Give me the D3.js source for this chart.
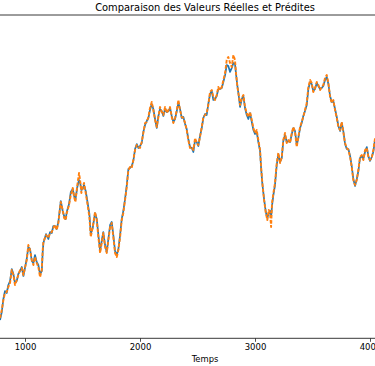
<!DOCTYPE html>
<html>
<head>
<meta charset="utf-8">
<script src="https://cdn.jsdelivr.net/npm/d3@7"></script>
<style>
  body { margin: 0; background: #fff; }
  svg { display: block; font-family: "DejaVu Sans", sans-serif; }
</style>
</head>
<body>
<div id="chart-area"></div>
<script>
// temps (abscisse) et valeurs
var temps = [783, 798, 812, 826, 841, 855, 870, 885, 899, 913, 928, 942, 957, 972, 986,
  1015, 1029, 1044, 1059, 1073, 1087, 1102, 1116, 1131, 1146, 1154, 1160, 1183, 1203, 1218,
  1233, 1246, 1261, 1276, 1290, 1311, 1328, 1340, 1354, 1363, 1383, 1398, 1415, 1427, 1438,
  1455, 1470, 1479, 1490, 1502, 1513, 1528, 1542, 1560, 1572, 1589, 1609, 1624, 1638, 1653,
  1667, 1681, 1696, 1711, 1725, 1740, 1754, 1768, 1783, 1798, 1812, 1827, 1841, 1855, 1870,
  1885, 1899, 1913, 1928, 1942, 1957, 1972, 1986, 2000, 2015, 2029, 2044, 2059, 2073, 2087,
  2102, 2116, 2131, 2146, 2160, 2174, 2189, 2203, 2218, 2233, 2247, 2261, 2276, 2290, 2305,
  2320, 2334, 2348, 2363, 2377, 2392, 2406, 2420, 2435, 2450, 2464, 2479, 2493, 2507, 2522,
  2537, 2551, 2566, 2580, 2594, 2609, 2624, 2638, 2653, 2667, 2681, 2696, 2711, 2725, 2740,
  2754, 2768, 2783, 2798, 2812, 2826, 2835, 2847, 2861, 2870, 2885, 2899, 2913, 2928, 2942,
  2957, 2972, 2986, 3000, 3015, 3029, 3044, 3053, 3064, 3079, 3094, 3107, 3120, 3131, 3140,
  3148, 3160, 3174, 3189, 3203, 3218, 3233, 3246, 3261, 3276, 3290, 3305, 3320, 3333, 3348,
  3363, 3377, 3392, 3406, 3420, 3435, 3450, 3464, 3479, 3493, 3507, 3522, 3537, 3551, 3566,
  3580, 3594, 3609, 3624, 3638, 3653, 3667, 3681, 3696, 3711, 3725, 3740, 3754, 3768, 3783,
  3798, 3812, 3827, 3841, 3855, 3870, 3885, 3899, 3913, 3928, 3942, 3957, 3972, 3986, 4000,
  4015, 4029, 4044];

var reelles = [3.6, 5.2, 7.8, 9.4, 9.0, 10.6, 11.4, 13.8, 12.8, 11.0, 11.4, 12.8, 13.4, 14.2, 12.4,
  15.8, 18.2, 17.8, 15.4, 15.0, 16.6, 15.2, 14.6, 12.8, 13.4, 17.2, 19.0, 20.8, 19.8, 21.2,
  21.0, 22.4, 22.4, 21.8, 23.2, 27.4, 25.4, 24.4, 23.8, 25.2, 26.8, 29.2, 29.8, 28.4, 27.6,
  30.2, 31.6, 31.2, 29.6, 29.8, 30.6, 29.4, 27.4, 24.8, 20.8, 22.0, 25.0, 23.8, 20.6, 17.4,
  19.4, 21.2, 18.6, 17.2, 19.8, 22.6, 23.2, 20.6, 17.4, 16.6, 17.8, 20.6, 23.8, 25.4, 27.8,
  30.6, 33.8, 34.0, 34.4, 35.4, 37.8, 38.8, 38.0, 38.4, 39.0, 41.2, 42.6, 43.4, 44.0, 45.6,
  46.8, 45.8, 43.8, 42.0, 44.4, 45.8, 45.4, 44.4, 45.8, 45.2, 45.4, 46.0, 44.4, 43.2, 43.8,
  45.4, 47.0, 45.8, 44.0, 44.2, 42.8, 41.8, 39.8, 38.2, 38.0, 37.2, 39.6, 39.2, 38.4, 40.4,
  42.0, 44.0, 44.8, 44.6, 46.8, 48.8, 49.4, 47.6, 47.8, 48.4, 49.8, 49.8, 50.0, 51.2, 52.6,
  54.6, 54.4, 53.2, 54.0, 55.0, 54.8, 52.8, 50.4, 48.0, 46.2, 47.8, 48.4, 46.0, 44.6, 43.8,
  45.0, 43.2, 41.6, 40.8, 41.2, 39.2, 37.4, 34.0, 30.8, 27.8, 25.2, 24.0, 25.0, 25.4, 24.2,
  26.4, 28.6, 30.6, 34.6, 36.8, 35.2, 36.0, 39.4, 40.6, 39.2, 39.4, 39.2, 40.8, 42.0, 41.4,
  38.6, 40.0, 42.0, 43.0, 44.4, 45.4, 46.6, 49.8, 51.2, 50.8, 49.4, 49.8, 51.0, 50.4, 49.8,
  50.0, 50.4, 51.6, 52.2, 50.8, 48.4, 47.2, 47.4, 45.8, 44.2, 42.4, 41.4, 43.0, 41.4, 38.8,
  37.8, 37.8, 36.4, 34.4, 31.8, 30.4, 31.8, 33.4, 36.0, 36.4, 35.8, 37.2, 38.2, 36.4, 35.4,
  36.2, 37.2, 39.8];

var predites = [4.0, 5.6, 7.6, 9.0, 9.2, 10.2, 11.0, 13.6, 12.6, 10.6, 11.6, 12.6, 13.6, 14.0, 12.6,
  15.6, 18.6, 17.6, 15.6, 14.6, 16.2, 15.0, 14.2, 12.2, 13.6, 17.6, 19.2, 20.6, 20.0, 21.0,
  21.2, 22.0, 22.6, 21.6, 23.0, 27.2, 25.6, 24.0, 23.6, 25.0, 26.6, 28.6, 30.0, 28.2, 27.2,
  30.6, 33.0, 31.6, 29.0, 30.2, 31.0, 29.0, 27.0, 24.2, 20.2, 22.2, 25.2, 23.6, 20.2, 17.0,
  19.0, 21.0, 18.2, 17.0, 19.6, 22.2, 23.0, 20.2, 17.0, 16.2, 17.6, 20.2, 23.6, 25.0, 27.6,
  30.2, 33.6, 34.2, 34.0, 35.6, 37.6, 38.6, 38.2, 38.0, 39.2, 41.0, 43.0, 43.2, 44.2, 46.0,
  47.2, 45.6, 43.6, 42.2, 44.2, 46.2, 45.2, 44.6, 46.2, 45.0, 45.6, 46.2, 44.2, 43.0, 44.0,
  45.6, 47.6, 45.6, 44.2, 44.0, 43.0, 41.6, 39.6, 38.0, 38.2, 37.6, 40.0, 39.0, 38.6, 40.2,
  42.2, 44.2, 44.6, 45.0, 46.6, 49.2, 49.6, 48.2, 47.6, 48.6, 50.2, 49.6, 50.2, 51.6, 53.0,
  55.6, 56.2, 55.0, 54.2, 56.6, 55.6, 53.0, 50.2, 48.2, 46.6, 48.0, 48.6, 46.2, 45.0, 44.2,
  45.2, 43.6, 42.0, 41.0, 41.6, 39.6, 37.6, 34.2, 31.0, 27.6, 25.0, 23.6, 25.6, 25.0, 22.2,
  27.0, 29.0, 31.0, 35.0, 37.0, 35.0, 36.2, 39.6, 41.0, 39.0, 39.6, 39.0, 41.0, 42.2, 41.2,
  38.2, 40.2, 42.2, 43.2, 44.2, 45.6, 47.0, 50.2, 51.6, 51.0, 49.2, 50.0, 51.2, 50.6, 49.6,
  50.2, 50.6, 52.0, 52.6, 51.0, 48.2, 47.0, 47.6, 45.6, 44.0, 42.2, 41.6, 43.2, 41.2, 39.0,
  38.0, 37.6, 36.2, 34.2, 31.6, 30.6, 31.6, 33.6, 36.2, 36.6, 35.6, 37.6, 38.0, 36.2, 35.6,
  36.0, 37.6, 40.0];

var xTicks = [1000, 2000, 3000, 4000];

var width = 375, height = 366;

var svg = d3.select("#chart-area").append("svg")
    .attr("width", width)
    .attr("height", height);

var x = d3.scaleLinear().domain([1000, 4000]).range([25, 370]);
var y = d3.scaleLinear().domain([0, 64.6]).range([338, 15]);

var data = temps.map(function(t, i) {
    return { t: t, reel: reelles[i], pred: predites[i] };
});

// courbes
var lineReel = d3.line()
    .x(function(d) { return x(d.t); })
    .y(function(d) { return y(d.reel); });

var linePred = d3.line()
    .x(function(d) { return x(d.t); })
    .y(function(d) { return y(d.pred); });

svg.append("path")
    .datum(data)
    .attr("fill", "none")
    .attr("stroke", "#1f77b4")
    .attr("stroke-width", 1.7)
    .attr("stroke-linejoin", "round")
    .attr("d", lineReel);

svg.append("path")
    .datum(data)
    .attr("fill", "none")
    .attr("stroke", "#ff7f0e")
    .attr("stroke-width", 1.9)
    .attr("stroke-dasharray", "3.6,1.6")
    .attr("stroke-linejoin", "round")
    .attr("d", linePred);

// cadre (haut et bas)
svg.append("line")
    .attr("x1", 0).attr("x2", width)
    .attr("y1", 15).attr("y2", 15)
    .attr("stroke", "#222").attr("stroke-width", 0.9);

svg.append("line")
    .attr("x1", 0).attr("x2", width)
    .attr("y1", 338.3).attr("y2", 338.3)
    .attr("stroke", "#222").attr("stroke-width", 0.9);

// axe x
var xAxis = svg.append("g")
    .attr("transform", "translate(0,338.3)")
    .call(d3.axisBottom(x).tickValues(xTicks).tickSize(3.5).tickPadding(2.5).tickFormat(d3.format("d")));

xAxis.select(".domain").remove();
xAxis.selectAll("line").attr("stroke", "#222").attr("stroke-width", 0.8);
xAxis.selectAll("text")
    .attr("fill", "#000")
    .style("font-family", "DejaVu Sans")
    .style("font-size", "8.5px");

svg.append("text")
    .attr("x", 205)
    .attr("y", 361.5)
    .attr("text-anchor", "middle")
    .style("font-size", "8.4px")
    .text("Temps");

svg.append("text")
    .attr("x", 205)
    .attr("y", 10.5)
    .attr("text-anchor", "middle")
    .style("font-size", "9.9px")
    .text("Comparaison des Valeurs Réelles et Prédites");
</script>
</body>
</html>
